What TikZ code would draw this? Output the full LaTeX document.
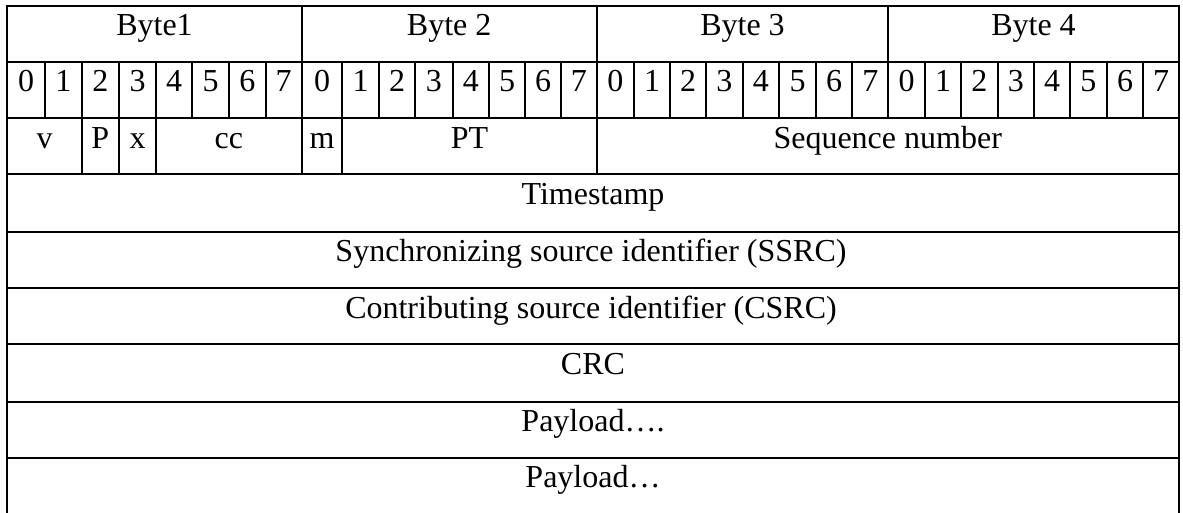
\documentclass[tikz,border=0pt]{standalone}
\usepackage{fontspec}
\setmainfont{Liberation Serif}
\usetikzlibrary{calc}
\begin{document}
\begin{tikzpicture}[x=1pt,y=-1pt,
  grid/.style={line width=2pt, line cap=rect},
  lbl/.style={anchor=base, inner sep=0pt, font=\fontsize{32}{38}\selectfont}]
\useasboundingbox (0,0) rectangle (1183,513);
\foreach \x [count=\i from 0] in {7.3,45,81.7,119,156,192.3,229,265.7,301.7,342.3,379,415,452.7,489,525,561,596.7,634,670,706,742.7,779,816,852.3,888.3,925,961,997.7,1034,1070,1106.7,1143.3,1178.7}
  {\coordinate (c\i) at (\x,0);}
\foreach \y [count=\j from 0] in {5.7,61.7,118.3,174.3,231.7,288.3,344.3,401.7,457.7,513}
  {\coordinate (r\j) at (0,\y);}
\coordinate (tb) at (0,91.7);
% horizontal rules
\foreach \j in {0,...,8} {\draw[grid] (c0 |- r\j) -- (c32 |- r\j);}
% outer sides
\draw[grid] (c0 |- r0) -- (c0 |- r9);
\draw[grid] (c32 |- r0) -- (c32 |- r9);
% byte boundaries
\draw[grid] (c8 |- r0) -- (c8 |- r3);
\draw[grid] (c16 |- r0) -- (c16 |- r3);
\draw[grid] (c24 |- r0) -- (c24 |- r2);
% bit separators
\foreach \i in {1,...,31} {\draw[grid] (c\i |- r1) -- (c\i |- r2);}
% header field separators
\foreach \i in {2,3,4,9} {\draw[grid] (c\i |- r2) -- (c\i |- r3);}
% byte labels
\node[lbl] (byteA) at (154.5,35.7) {Byte1};
\node[lbl] (byteB) at (449.2,35.7) {Byte 2};
\node[lbl] (byteC) at (742.5,35.7) {Byte 3};
\node[lbl] (byteD) at (1033.5,35.7) {Byte 4};
% bit numbers
\foreach \i [evaluate=\i as \k using {int(\i+1)}, evaluate=\i as \d using {int(mod(\i,8))}] in {0,...,31} {
  \coordinate (m\i) at ($(c\i)!0.5!(c\k)$);
  \node[lbl] (b\i) at (m\i |- tb) {\d};
}
% fields
\node[lbl] (fv) at (44.5,148.3) {v};
\node[lbl] (fp) at (100.35,148.3) {P};
\node[lbl] (fx) at (137.5,148.3) {x};
\node[lbl] (fcc) at (228.85,148.3) {cc};
\node[lbl] (fm) at (322,148.3) {m};
\node[lbl] (fpt) at (469.5,148.3) {PT};
\node[lbl] (fseq) at (887.7,148.3) {Sequence number};
\node[lbl] (fts) at (593,204.3) {Timestamp};
\node[lbl] (fssrc) at (591,261.7) {Synchronizing source identifier (SSRC)};
\node[lbl] (fcsrc) at (591,318.3) {Contributing source identifier (CSRC)};
\node[lbl] (fcrc) at (593,374.3) {CRC};
\node[lbl] (fpa) at (593,431.7) {Payload….};
\node[lbl] (fpb) at (593,487.7) {Payload…};
\end{tikzpicture}
\end{document}
